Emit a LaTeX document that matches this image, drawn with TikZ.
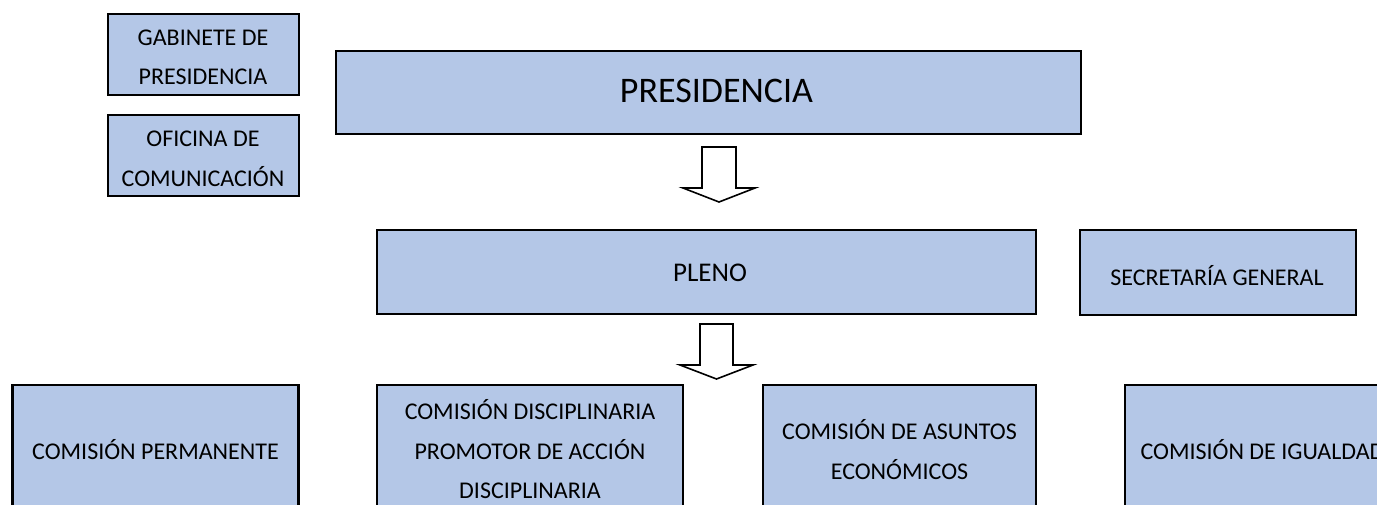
\documentclass[tikz,border=0pt]{standalone}
\usepackage{fontspec}
\setmainfont{Carlito}
\definecolor{boxblue}{RGB}{180,199,231}
\newcommand{\stA}{\rule[-5pt]{0pt}{20pt}}
\newcommand{\stB}{\rule[-6.7pt]{0pt}{28pt}}
\newcommand{\stC}{\rule[-5pt]{0pt}{22pt}}
\tikzset{
  orgbox/.style={draw=black, fill=boxblue, line width=2.7pt, rectangle, inner sep=0pt},
  lbl/.style={inner sep=0pt, align=center, font=\fontsize{24}{39.5}\selectfont},
  blockarr/.style={draw=black, fill=white, line width=1.6pt, line join=miter},
}
\begin{document}
\begin{tikzpicture}[x=1pt, y=-1pt]
\useasboundingbox (0,0) rectangle (1377,504);
\clip (0,0) rectangle (1377,504);
% boxes (corner to corner)
\node[orgbox, minimum width=191pt, minimum height=81pt] (gab) at (203.5,54.5) {};
\node[orgbox, minimum width=191pt, minimum height=81pt] (ofi) at (203.5,155.5) {};
\node[orgbox, minimum width=745pt, minimum height=83pt] (pres) at (708.5,92.5) {};
\node[orgbox, minimum width=659pt, minimum height=84pt] (pleno) at (706.5,272) {};
\node[orgbox, minimum width=276pt, minimum height=85pt] (secr) at (1218,272.5) {};
\node[orgbox, minimum width=286pt, minimum height=134pt] (perm) at (155.5,452) {};
\node[orgbox, minimum width=306pt, minimum height=134pt] (disc) at (530,452) {};
\node[orgbox, minimum width=273pt, minimum height=134pt] (asun) at (899.5,452) {};
\node[orgbox, minimum width=275pt, minimum height=134pt] (igual) at (1262.5,452) {};
% texts
\node[lbl] (gabT) at (203,59.5) {\stA GABINETE DE\\\stA PRESIDENCIA};
\node[lbl] (ofiT) at (203,161) {\stA OFICINA DE\\\stA COMUNICACIÓN};
\node[lbl, font=\fontsize{36}{40}\selectfont] (presT) at (716.5,94) {\stB PRESIDENCIA};
\node[lbl, font=\fontsize{27}{40}\selectfont] (plenoT) at (710,275.5) {\stC PLENO};
\node[lbl] (secrT) at (1217,277.5) {\stA SECRETARÍA GENERAL};
\node[lbl] (permT) at (155.5,452) {\stA COMISIÓN PERMANENTE};
\node[lbl] (discT) at (530,451.5) {\stA COMISIÓN DISCIPLINARIA\\\stA PROMOTOR DE ACCIÓN\\\stA DISCIPLINARIA};
\node[lbl] (asunT) at (899.5,452) {\stA COMISIÓN DE ASUNTOS\\\stA ECONÓMICOS};
\node[lbl] (igualT) at (1262.5,452) {\stA COMISIÓN DE IGUALDAD};
% block arrows
\coordinate (a1) at (719,147);
\coordinate (a2) at (716.5,324);
\draw[blockarr] (a1) ++(-17,0) -- ++(34,0) -- ++(0,41) -- ++(19,0) -- ++(-36,14) -- ++(-36,-14) -- ++(19,0) -- cycle;
\draw[blockarr] (a2) ++(-16.5,0) -- ++(33,0) -- ++(0,41) -- ++(20,0) -- ++(-36.5,14) -- ++(-36.5,-14) -- ++(20,0) -- cycle;
\end{tikzpicture}
\end{document}
